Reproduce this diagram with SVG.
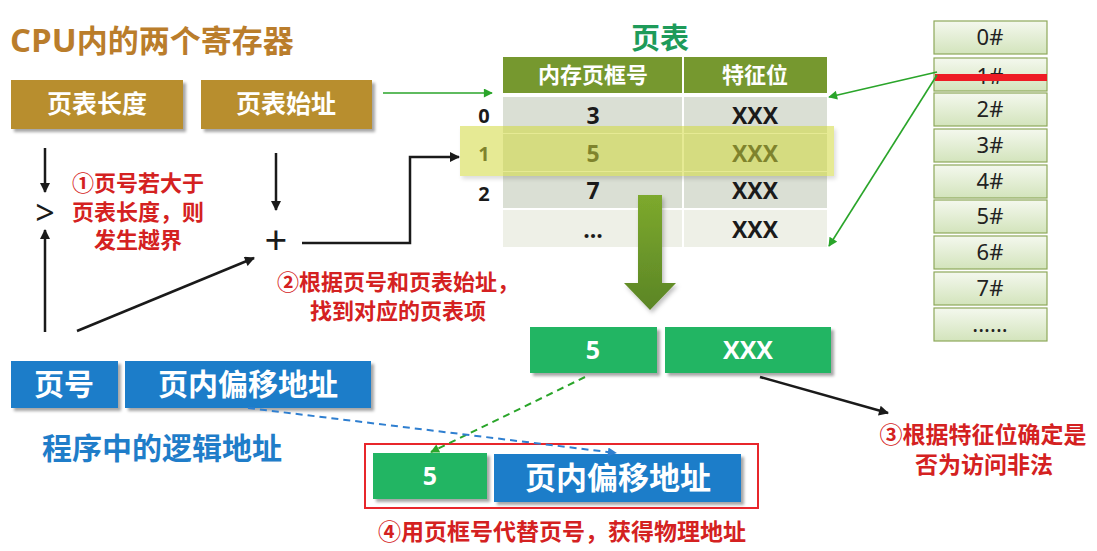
<svg xmlns="http://www.w3.org/2000/svg" width="1097" height="551" viewBox="0 0 1097 551">
<defs>
<style>
.cjk{font-family:"Open Sans","Noto Sans CJK SC",sans-serif;font-weight:bold}
.reg{font-family:"Noto Sans","Noto Sans CJK SC",sans-serif}
.w{fill:#fff}
.red{fill:#D42121}
.blk{stroke:#1a1a1a;stroke-width:2.5;fill:none}
.grn{stroke:#2AA52A;stroke-width:1.6;fill:none}
.mem{fill:url(#memg);stroke:#8EA85A;stroke-width:1.2}
.ml{font-family:"Noto Sans",sans-serif;font-size:22px;fill:#222;text-anchor:middle}
</style>
<filter id="sh" x="-10%" y="-10%" width="130%" height="140%">
<feDropShadow dx="3" dy="3" stdDeviation="1.5" flood-color="#000" flood-opacity="0.35"/>
</filter>
<filter id="sh2" x="-10%" y="-20%" width="130%" height="160%">
<feDropShadow dx="2" dy="3" stdDeviation="2" flood-color="#000" flood-opacity="0.25"/>
</filter>
<linearGradient id="memg" x1="0" y1="0" x2="0" y2="1">
<stop offset="0" stop-color="#F4F8EE"/>
<stop offset="1" stop-color="#D3E4BC"/>
</linearGradient>
<linearGradient id="bigarr" x1="0" y1="0" x2="0" y2="1">
<stop offset="0" stop-color="#7DA92D"/>
<stop offset="1" stop-color="#5B8526"/>
</linearGradient>
<marker id="abk" viewBox="0 0 10 10" refX="9" refY="5" markerWidth="12" markerHeight="10" orient="auto" markerUnits="userSpaceOnUse">
<path d="M0,0 L10,5 L0,10 z" fill="#1a1a1a"/>
</marker>
<marker id="ag" viewBox="0 0 10 10" refX="9" refY="5" markerWidth="11" markerHeight="9" orient="auto" markerUnits="userSpaceOnUse">
<path d="M0,0 L10,5 L0,10 z" fill="#2AA52A"/>
</marker>
<marker id="abl" viewBox="0 0 10 10" refX="9" refY="5" markerWidth="11" markerHeight="9" orient="auto" markerUnits="userSpaceOnUse">
<path d="M0,0 L10,5 L0,10 z" fill="#2F7FD0"/>
</marker>
</defs>
<rect width="1097" height="551" fill="#fff"/>

<text id="title" class="cjk" x="10" y="52" font-size="31" fill="#BA7D2B"><tspan font-size="33">CPU</tspan>内的两个寄存器</text>

<g id="reg-len">
<rect x="11" y="80" width="172" height="49" fill="#B88E2E" filter="url(#sh)"/>
<text class="cjk w" x="97" y="113" font-size="25" text-anchor="middle">页表长度</text>
</g>
<g id="reg-base">
<rect x="201" y="80" width="171" height="49" fill="#B88E2E" filter="url(#sh)"/>
<text class="cjk w" x="286" y="113" font-size="25" text-anchor="middle">页表始址</text>
</g>

<g id="pagetable">
<text class="cjk" x="660" y="49" font-size="29" fill="#1E9B5A" text-anchor="middle">页表</text>
<rect x="503" y="57" width="324" height="36" fill="#76982F"/>
<line x1="683" y1="57" x2="683" y2="93" stroke="#fff" stroke-width="2"/>
<text class="cjk w" x="593" y="83" font-size="22" text-anchor="middle">内存页框号</text>
<text class="cjk w" x="755" y="83" font-size="22" text-anchor="middle">特征位</text>
<rect x="503" y="97" width="324" height="36" fill="#DADFD4"/>
<rect x="503" y="134" width="324" height="37" fill="#DADFD4"/>
<rect x="503" y="172" width="324" height="36" fill="#DADFD4"/>
<rect x="503" y="210" width="324" height="37" fill="#EEF0E7"/>
<line x1="683" y1="97" x2="683" y2="247" stroke="#fff" stroke-width="2"/>
<g class="cjk" font-size="20" fill="#1a1a1a" text-anchor="middle">
<text x="484" y="123">0</text>
<text x="484" y="161">1</text>
<text x="484" y="201">2</text>
</g>
<g class="cjk" font-size="23" fill="#1a1a1a" text-anchor="middle">
<text x="593" y="124">3</text>
<text x="593" y="162">5</text>
<text x="593" y="199">7</text>
<text x="593" y="238">...</text>
<text x="755" y="124">XXX</text>
<text x="755" y="162">XXX</text>
<text x="755" y="199">XXX</text>
<text x="755" y="238">XXX</text>
</g>
<rect id="highlight" x="460" y="126" width="374" height="50" fill="#D2DA3C" opacity="0.55" filter="url(#sh2)"/>
</g>

<g id="bigarrow">
<path d="M638,195 L662,195 L662,283 L676,283 L650,310 L624,283 L638,283 Z" fill="url(#bigarr)" filter="url(#sh2)"/>
</g>

<g id="memory">
<g><rect class="mem" x="934" y="21" width="113" height="33"/><text class="ml" x="990" y="45">0#</text></g>
<g><rect class="mem" x="934" y="58" width="113" height="33"/><text class="ml" x="990" y="84">1#</text></g>
<g><rect class="mem" x="934" y="93" width="113" height="33"/><text class="ml" x="990" y="117">2#</text></g>
<g><rect class="mem" x="934" y="129" width="113" height="33"/><text class="ml" x="990" y="153">3#</text></g>
<g><rect class="mem" x="934" y="165" width="113" height="33"/><text class="ml" x="990" y="189">4#</text></g>
<g><rect class="mem" x="934" y="200" width="113" height="33"/><text class="ml" x="990" y="224">5#</text></g>
<g><rect class="mem" x="934" y="236" width="113" height="33"/><text class="ml" x="990" y="260">6#</text></g>
<g><rect class="mem" x="934" y="272" width="113" height="33"/><text class="ml" x="990" y="296">7#</text></g>
<g><rect class="mem" x="934" y="308" width="113" height="33"/><text class="ml" x="990" y="332" font-size="18">......</text></g>
<rect x="935" y="74" width="112" height="7" fill="#EE1C24"/>
</g>

<g id="cmp">
<text class="reg" x="45" y="225" font-size="34" fill="#1a1a1a" text-anchor="middle">&gt;</text>
</g>
<g id="plus">
<text class="reg" x="276" y="254" font-size="40" fill="#1a1a1a" text-anchor="middle">+</text>
</g>

<g id="note1" class="cjk red" font-size="22" text-anchor="middle">
<text x="138" y="191">①页号若大于</text>
<text x="138" y="220">页表长度，则</text>
<text x="138" y="248">发生越界</text>
</g>
<g id="note2" class="cjk red" font-size="22" text-anchor="middle">
<text x="398" y="290">②根据页号和页表始址，</text>
<text x="398" y="319">找到对应的页表项</text>
</g>

<g id="logaddr">
<rect x="11" y="361" width="107" height="47" fill="#1F7DC9" filter="url(#sh)"/>
<text class="cjk w" x="64" y="395" font-size="30" text-anchor="middle">页号</text>
<rect x="125" y="361" width="246" height="47" fill="#1F7DC9" filter="url(#sh)"/>
<text class="cjk w" x="248" y="395" font-size="30" text-anchor="middle">页内偏移地址</text>
</g>
<text id="loglabel" class="cjk" x="162" y="459" font-size="30" fill="#1F7DC9" text-anchor="middle">程序中的逻辑地址</text>

<g id="entry">
<rect x="530" y="327" width="127" height="46" fill="#21B563" filter="url(#sh)"/>
<text class="cjk w" x="593" y="359" font-size="25" text-anchor="middle">5</text>
<rect x="665" y="327" width="166" height="46" fill="#21B563" filter="url(#sh)"/>
<text class="cjk w" x="748" y="359" font-size="25" text-anchor="middle">XXX</text>
</g>

<g id="note3" class="cjk red" font-size="23" text-anchor="middle">
<text x="983" y="443">③根据特征位确定是</text>
<text x="984" y="473">否为访问非法</text>
</g>

<g id="physaddr">
<rect x="365" y="444" width="393" height="64" fill="none" stroke="#E8262B" stroke-width="2"/>
<rect x="373" y="453" width="114" height="46" fill="#21B563" filter="url(#sh)"/>
<text class="cjk w" x="430" y="485" font-size="25" text-anchor="middle">5</text>
<rect x="494" y="454" width="247" height="48" fill="#1F7DC9" filter="url(#sh)"/>
<text class="cjk w" x="618" y="489" font-size="31" text-anchor="middle">页内偏移地址</text>
</g>
<text id="note4" class="cjk red" x="562" y="540" font-size="23" text-anchor="middle">④用页框号代替页号，获得物理地址</text>

<g id="connectors">
<line class="grn" x1="383" y1="93" x2="492" y2="93" marker-end="url(#ag)"/>
<line class="grn" x1="937" y1="72" x2="829" y2="97" marker-end="url(#ag)"/>
<line class="grn" x1="937" y1="75" x2="829" y2="246" marker-end="url(#ag)"/>
<line class="blk" x1="45" y1="148" x2="45" y2="192" marker-end="url(#abk)"/>
<line class="blk" x1="45" y1="332" x2="45" y2="230" marker-end="url(#abk)"/>
<line class="blk" x1="276" y1="153" x2="276" y2="210" marker-end="url(#abk)"/>
<line class="blk" x1="77" y1="331" x2="254" y2="258" marker-end="url(#abk)"/>
<polyline class="blk" points="302,243 410,243 410,157 459,157" marker-end="url(#abk)"/>
<line class="blk" x1="760" y1="377" x2="888" y2="413" marker-end="url(#abk)"/>
<line x1="585" y1="377" x2="431" y2="452" stroke="#2AA52A" stroke-width="2" stroke-dasharray="7,5" marker-end="url(#ag)"/>
<line x1="248" y1="408" x2="616" y2="453" stroke="#2F7FD0" stroke-width="2" stroke-dasharray="7,5" marker-end="url(#abl)"/>
</g>
</svg>
